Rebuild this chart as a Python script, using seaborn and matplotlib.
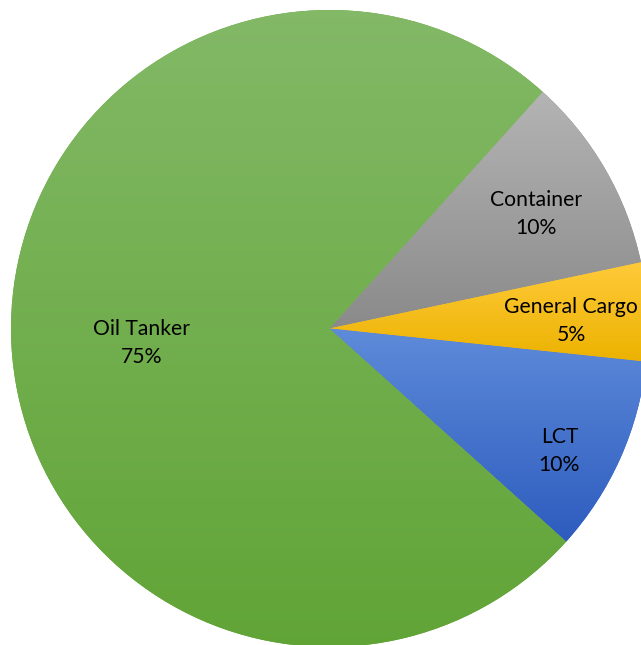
import numpy as np
import matplotlib
matplotlib.use("Agg")
import matplotlib.pyplot as plt
import seaborn as sns
from matplotlib.colors import LinearSegmentedColormap

sns.set_theme(style="white")
plt.rcParams['font.family'] = ['Lato', 'DejaVu Sans']

# data, in the order drawn clockwise from the upper right
categories = ['Container', 'General Cargo', 'LCT', 'Oil Tanker']
shares = [10, 5, 10, 75]

# gradient colours per slice (top, bottom)
top_colors = ['#b4b4b4', '#ffca3a', '#5e8bd9', '#83b967']
bottom_colors = ['#8a8a8a', '#ecb200', '#2d5cbf', '#61a436']
# label placement: distance from centre, angle nudge (deg)
label_dist = [0.75, 0.76, 0.81, 0.59]
label_turn = [0, 0, -3, 0]

fig = plt.figure(figsize=(6.41, 6.45), dpi=100)
ax = fig.add_axes([0, 0, 1, 1])

r = 318.5
cx, cy = 329.5, 328.5
W, H = 641, 645

wedges, _ = ax.pie(shares, startangle=48, counterclock=False, radius=1,
                   colors=bottom_colors, wedgeprops=dict(linewidth=0))

grad = np.linspace(0, 1, 256).reshape(-1, 1)
for w, c0, c1, name, share, d, t in zip(wedges, top_colors, bottom_colors,
                                        categories, shares, label_dist, label_turn):
    # vertical gradient over the slice's own bounding box, light on top
    verts = w.get_path().vertices
    x0, x1 = verts[:, 0].min(), verts[:, 0].max()
    y0, y1 = verts[:, 1].min(), verts[:, 1].max()
    cmap = LinearSegmentedColormap.from_list(name, [c0, c1])
    im = ax.imshow(grad, cmap=cmap, aspect='auto', extent=(x0, x1, y0, y1),
                   origin='upper', interpolation='bilinear', zorder=2)
    im.set_clip_path(w)

    theta = np.deg2rad((w.theta1 + w.theta2) / 2 + t)
    ax.annotate(f'{name}\n{share}%', (d * np.cos(theta), d * np.sin(theta)),
                xytext=(0, -3.6), textcoords='offset points',
                ha='center', va='center', fontsize=15.2, linespacing=1.5,
                color='black', zorder=3)

ax.set_xlim(-cx / r, (W - cx) / r)
ax.set_ylim(-(H - cy) / r, cy / r)
ax.set_aspect('equal')
ax.axis('off')

fig.savefig('out.png', dpi=100)
